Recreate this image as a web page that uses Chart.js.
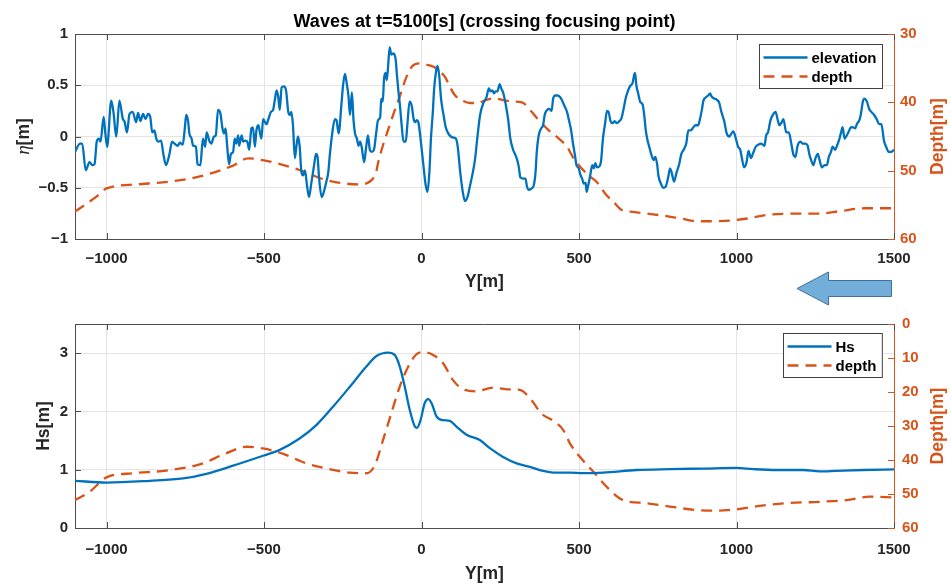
<!DOCTYPE html>
<html>
<head>
<meta charset="utf-8">
<script src="https://cdn.jsdelivr.net/npm/chart.js@4"></script>
<style>
  body { margin: 0; background: #fff; }
  .box { position: absolute; left: 0; width: 951px; height: 293px; }
  #arrow { position: absolute; left: 0; top: 0; }
</style>
</head>
<body>
<div class="box" style="top:0"><canvas id="waves"></canvas></div>
<div class="box" style="top:293px"><canvas id="hs"></canvas></div>
<svg id="arrow" width="951" height="586">
  <polygon points="797,288.5 828.5,272 828.5,280.5 891.5,280.5 891.5,296.5 828.5,296.5 828.5,305" fill="#73aedb" stroke="#41719c" stroke-width="1"/>
</svg>
<script>
// ---- data ----
const xTicks = [-1000, -500, 0, 500, 1000, 1500];
const etaTicks = [-1, -0.5, 0, 0.5, 1];
const depthTopTicks = [30, 40, 50, 60];
const hsTicks = [0, 1, 2, 3];
const depthBotTicks = [0, 10, 20, 30, 40, 50, 60];

// surface elevation at t=5100 s
const elevY = [-1100,-1084,-1077,-1066,-1054,-1045,-1038,-1031,-1024,-1019,-1009,-1004,-998,-985,-978,-969,-959,-948,-943,-935,-927,-917,-906,-900,-892,-884,-876,-868,-861,-855,-848,-842,-835,-827,-819,-811,-800,-792,-784,-774,-767,-758,-752,-747,-741,-737,-730,-725,-716,-711,-702,-694,-687,-682,-674,-667,-659,-653,-646,-638,-632,-627,-622,-617,-611,-605,-598,-593,-588,-582,-579,-571,-566,-559,-553,-547,-540,-535,-529,-524,-518,-513,-508,-503,-497,-492,-486,-478,-471,-466,-460,-455,-450,-444,-437,-430,-423,-418,-413,-408,-402,-397,-392,-387,-381,-376,-370,-363,-357,-350,-341,-335,-330,-325,-317,-310,-302,-296,-291,-283,-275,-270,-263,-254,-249,-243,-238,-232,-227,-221,-216,-211,-205,-200,-195,-190,-182,-176,-170,-164,-158,-151,-144,-138,-131,-128,-123,-119,-114,-110,-105,-101,-96,-89,-82,-78,-73,-68,-63,-57,-50,-45,-38,-31,-25,-20,-15,-10,-2,6,13,19,25,30,36,40,46,51,56,62,70,77,85,93,101,109,115,123,131,138,146,154,163,170,177,186,197,206,214,219,225,230,235,241,248,253,260,267,275,282,291,298,304,309,314,323,330,335,341,348,356,362,366,372,380,386,391,399,406,413,418,425,433,441,448,455,462,468,475,481,487,492,499,504,510,515,521,524,529,535,542,547,552,557,565,570,576,582,589,594,600,607,613,620,628,635,641,648,656,664,670,675,678,682,688,694,702,707,712,717,723,730,737,742,748,752,760,767,775,783,789,794,802,809,818,825,834,841,847,855,863,870,878,884,890,895,902,910,916,921,929,937,945,952,961,969,977,982,990,998,1005,1012,1017,1024,1032,1038,1046,1053,1061,1069,1078,1089,1094,1100,1108,1115,1124,1131,1136,1144,1149,1158,1166,1174,1181,1187,1194,1203,1210,1218,1226,1231,1237,1244,1250,1258,1263,1271,1280,1287,1293,1300,1305,1313,1319,1327,1332,1337,1343,1348,1355,1364,1371,1377,1382,1390,1395,1401,1406,1414,1421,1428,1437,1445,1453,1460,1468,1475,1483,1491,1500];
const elevEta = [-0.15,-0.07,-0.07,-0.33,-0.25,-0.28,-0.27,-0.05,-0.02,-0.05,0.19,0.04,-0.10,0.35,0.24,0.00,0.35,0.17,0.15,0.04,0.22,0.24,0.14,0.23,0.15,0.22,0.17,0.22,0.19,0.04,0.06,-0.02,-0.05,-0.04,-0.18,-0.28,-0.17,-0.05,-0.07,-0.09,-0.06,-0.08,0.06,0.21,0.15,0.03,-0.02,-0.09,-0.10,-0.27,-0.28,-0.02,-0.10,0.04,-0.04,-0.07,0.00,0.01,0.26,0.22,0.08,0.03,0.08,-0.09,-0.27,-0.17,-0.15,-0.02,-0.07,0.01,-0.09,0.01,-0.05,-0.04,-0.05,-0.13,0.08,0.09,-0.10,0.06,0.11,0.04,-0.02,0.17,0.14,0.12,0.17,0.24,0.26,0.35,0.45,0.39,0.26,0.48,0.49,0.45,0.24,0.21,0.24,0.11,-0.21,-0.09,0.00,-0.09,-0.35,-0.38,-0.33,-0.49,-0.59,-0.46,-0.28,-0.17,-0.20,-0.41,-0.59,-0.54,-0.44,-0.35,-0.18,0.04,0.17,0.16,0.03,0.32,0.50,0.61,0.53,0.40,0.21,0.43,0.17,0.03,-0.02,-0.09,-0.05,-0.10,-0.25,-0.11,0.01,-0.13,-0.15,-0.13,0.03,0.16,0.19,0.37,0.34,0.56,0.62,0.55,0.73,0.87,0.80,0.81,0.75,0.60,0.43,0.29,0.11,-0.05,-0.05,0.11,0.34,0.30,0.17,0.14,0.16,0.14,-0.05,-0.28,-0.47,-0.54,-0.35,-0.02,0.24,0.46,0.63,0.69,0.60,0.37,0.21,0.09,0.03,0.00,-0.01,-0.02,-0.10,-0.35,-0.54,-0.63,-0.59,-0.48,-0.35,-0.22,-0.02,0.21,0.33,0.38,0.47,0.44,0.45,0.42,0.44,0.44,0.51,0.47,0.42,0.32,0.17,-0.02,-0.13,-0.18,-0.23,-0.30,-0.40,-0.41,-0.41,-0.49,-0.52,-0.51,-0.48,-0.35,-0.15,0.01,0.08,0.11,0.21,0.26,0.27,0.25,0.37,0.40,0.40,0.38,0.34,0.29,0.24,0.16,0.06,-0.07,-0.18,-0.28,-0.31,-0.37,-0.41,-0.46,-0.45,-0.54,-0.48,-0.39,-0.28,-0.31,-0.26,-0.30,-0.29,-0.24,-0.02,0.11,0.25,0.24,0.15,0.13,0.15,0.13,0.15,0.18,0.26,0.37,0.45,0.50,0.52,0.60,0.62,0.50,0.42,0.34,0.31,0.21,0.06,-0.03,-0.10,-0.18,-0.23,-0.20,-0.27,-0.38,-0.46,-0.50,-0.49,-0.40,-0.31,-0.35,-0.44,-0.36,-0.27,-0.17,-0.12,-0.06,0.06,0.06,0.09,0.11,0.11,0.17,0.26,0.35,0.38,0.40,0.42,0.39,0.37,0.36,0.33,0.24,0.15,0.03,0.00,0.02,0.05,-0.02,-0.10,-0.13,-0.21,-0.30,-0.25,-0.14,-0.21,-0.16,-0.10,-0.08,-0.07,-0.09,0.01,0.04,0.16,0.21,0.24,0.16,0.11,0.14,0.17,0.04,0.04,-0.07,-0.18,-0.20,-0.09,-0.05,-0.07,-0.07,-0.09,-0.17,-0.23,-0.28,-0.22,-0.17,-0.22,-0.30,-0.28,-0.28,-0.20,-0.15,-0.10,-0.13,-0.09,-0.02,0.04,0.09,-0.02,0.00,0.04,0.09,0.09,0.08,0.12,0.16,0.22,0.34,0.37,0.34,0.27,0.24,0.21,0.17,0.12,0.12,-0.04,-0.10,-0.15,-0.15,-0.13];

// depth profile, upper panel (right axis 30-60 m)
const depthTopY = [-1100,-1032,-1000,-900,-800,-700,-600,-550,-500,-400,-350,-300,-200,-147,-137,-121,-105,-89,-68,-52,-36,-20,-2,17,38,54,75,91,107,128,154,180,202,230,262,293,319,346,372,404,436,462,483,505,531,557,584,610,637,664,717,770,823,876,929,982,1035,1094,1173,1258,1332,1406,1500];
const depthTopVal = [56.0,53.8,52.6,52.0,51.6,50.8,49.3,48.2,48.5,49.7,50.6,51.4,52.0,50.7,48.7,46.1,43.9,41.7,39.0,36.8,35.1,34.4,34.3,34.5,34.8,35.3,36.3,37.8,39.0,39.7,40.1,40.1,39.7,39.4,39.7,39.9,40.0,41.2,42.6,44.1,45.3,46.5,48.2,49.5,50.7,51.7,53.4,54.6,55.8,56.0,56.3,56.6,57.0,57.4,57.4,57.3,57.0,56.5,56.3,56.3,55.9,55.5,55.5];

// significant wave height, lower panel
const hsY = [-1100,-1000,-863,-757,-683,-598,-503,-450,-386,-333,-281,-228,-175,-143,-106,-85,-69,-53,-37,-21,-14,-3,10,21,32,48,69,90,111,143,185,217,259,302,344,386,418,471,513,577,683,788,894,1000,1053,1127,1212,1264,1317,1402,1500];
const hsVal = [0.81,0.78,0.81,0.85,0.93,1.07,1.24,1.34,1.54,1.77,2.08,2.42,2.77,2.95,3.01,2.97,2.77,2.42,2.02,1.74,1.72,1.85,2.14,2.21,2.14,1.91,1.85,1.84,1.74,1.60,1.51,1.37,1.22,1.11,1.05,0.98,0.95,0.95,0.94,0.95,0.995,1.01,1.02,1.03,1.01,0.995,0.995,0.97,0.98,0.995,1.005];

// depth profile, lower panel (right axis 0-60 m)
const depthBotY = [-1100,-1053,-1000,-916,-810,-704,-619,-556,-503,-439,-365,-281,-228,-175,-148,-122,-96,-69,-42,-16,5,37,69,100,132,175,227,270,312,349,380,417,450,471,502,545,587,640,714,788,873,937,1000,1074,1159,1264,1349,1423,1500];
const depthBotVal = [51.8,49.3,45.1,43.9,43.1,41.3,38.0,36.1,36.6,38.2,41.0,42.9,43.7,43.9,41.5,34.1,26.3,18.4,12.5,8.9,8.3,9.1,11.6,16.5,19.2,19.8,18.7,19.2,19.4,22.4,26.3,28.4,31.2,35.1,39.0,43.4,47.8,51.8,52.7,53.7,54.7,54.9,54.5,53.5,52.7,52.3,51.8,50.8,51.0];

// ---- style ----
const FONT = "'Liberation Sans', Arial, Helvetica, sans-serif";
const BLUE = "#0072BD";
const ORANGE = "#D95319";
const INK = "#262626";
const AXIS = "#4d4d4d";
const GRID = "#e4e4e4";

function pts(xs, ys) { return xs.map((x, i) => ({ x: x, y: ys[i] })); }
function fmt(v) { return String(v).replace("-", "\u2212"); }
function fixTicks(list) { return s => { s.ticks = list.map(v => ({ value: v })); }; }

// frame, inward ticks, title, y labels and legend
const decor = {
  id: "decor",
  afterDraw(chart, args, o) {
    const { ctx, chartArea: a, scales } = chart;
    ctx.save();
    ctx.lineWidth = 1;
    // top frame line
    ctx.strokeStyle = AXIS;
    ctx.beginPath();
    ctx.moveTo(a.left, a.top + 0.5);
    ctx.lineTo(a.right, a.top + 0.5);
    ctx.stroke();
    // inward tick marks
    const tl = 6;
    ctx.beginPath();
    scales.x.ticks.forEach(t => {
      const px = Math.round(scales.x.getPixelForValue(t.value)) + 0.5;
      ctx.moveTo(px, a.bottom); ctx.lineTo(px, a.bottom - tl);
      ctx.moveTo(px, a.top); ctx.lineTo(px, a.top + tl);
    });
    scales.y.ticks.forEach(t => {
      const py = Math.round(scales.y.getPixelForValue(t.value)) + 0.5;
      ctx.moveTo(a.left, py); ctx.lineTo(a.left + tl, py);
    });
    ctx.stroke();
    ctx.strokeStyle = ORANGE;
    ctx.beginPath();
    scales.y2.ticks.forEach(t => {
      const py = Math.round(scales.y2.getPixelForValue(t.value)) + 0.5;
      ctx.moveTo(a.right, py); ctx.lineTo(a.right - tl, py);
    });
    ctx.stroke();

    // main title
    if (o.title) {
      ctx.fillStyle = "#000";
      ctx.font = "bold 18px " + FONT;
      ctx.textAlign = "center";
      ctx.textBaseline = "middle";
      ctx.fillText(o.title, (a.left + a.right) / 2, 22);
    }

    // left y label (mixed fonts), rotated
    const cy = (a.top + a.bottom) / 2;
    ctx.save();
    ctx.translate(o.leftX, cy);
    ctx.rotate(-Math.PI / 2);
    ctx.fillStyle = INK;
    ctx.textBaseline = "middle";
    ctx.textAlign = "left";
    let w = 0;
    o.leftParts.forEach(p => { ctx.font = p.font; w += ctx.measureText(p.text).width; });
    let x = -w / 2;
    o.leftParts.forEach(p => { ctx.font = p.font; ctx.fillText(p.text, x, 0); x += ctx.measureText(p.text).width; });
    ctx.restore();

    // right y label, rotated the same way
    ctx.save();
    ctx.translate(938, cy);
    ctx.rotate(-Math.PI / 2);
    ctx.fillStyle = ORANGE;
    ctx.font = "bold 17.5px " + FONT;
    ctx.textAlign = "center";
    ctx.textBaseline = "middle";
    ctx.fillText("Depth[m]", 0, 0);
    ctx.restore();

    // legend box
    ctx.font = "bold 15px " + FONT;
    const sets = chart.data.datasets;
    const textW = Math.max(...sets.map(d => ctx.measureText(d.label).width));
    const bw = 4 + 44 + 4 + textW + 6;
    const bh = 44;
    const bx = Math.round(a.right - 12 - bw) + 0.5;
    const by = Math.round(a.top + o.legendTop) + 0.5;
    ctx.fillStyle = "#fff";
    ctx.fillRect(bx, by, bw, bh);
    ctx.strokeStyle = "#404040";
    ctx.strokeRect(bx, by, bw, bh);
    sets.forEach((d, i) => {
      const ry = by + 13 + i * 19;
      ctx.strokeStyle = d.borderColor;
      ctx.lineWidth = d.borderWidth;
      ctx.setLineDash(d.borderDash || []);
      ctx.beginPath();
      ctx.moveTo(bx + 4, ry);
      ctx.lineTo(bx + 48, ry);
      ctx.stroke();
      ctx.setLineDash([]);
      ctx.fillStyle = "#000";
      ctx.textAlign = "left";
      ctx.textBaseline = "middle";
      ctx.fillText(d.label, bx + 52, ry + 1);
    });
    ctx.restore();
  }
};

function makeChart(id, cfg) {
  const tickFont = { family: FONT, size: 15, weight: "bold" };
  return new Chart(document.getElementById(id), {
    type: "line",
    data: { datasets: cfg.datasets },
    plugins: [decor],
    options: {
      responsive: true,
      maintainAspectRatio: false,
      animation: false,
      devicePixelRatio: 1,
      layout: { padding: { top: cfg.padTop, left: 0, right: 0, bottom: 0 } },
      elements: { point: { radius: 0 }, line: { cubicInterpolationMode: "monotone" } },
      plugins: {
        legend: { display: false },
        tooltip: { enabled: false },
        decor: cfg.decor
      },
      scales: {
        x: {
          type: "linear", min: -1100, max: 1500,
          afterBuildTicks: fixTicks(xTicks),
          afterFit: s => { s.height = cfg.xHeight; },
          grid: { color: c => c.tick && c.tick.value === 1500 ? "rgba(0,0,0,0)" : GRID, drawTicks: false },
          border: { color: AXIS, width: 1 },
          ticks: { font: tickFont, color: INK, padding: cfg.xPad, maxRotation: 0, callback: v => fmt(v) },
          title: { display: true, text: "Y[m]", color: INK, font: { family: FONT, size: 17.5, weight: "bold" }, padding: { top: 0, bottom: cfg.xTitlePad } }
        },
        y: {
          position: "left", min: cfg.yMin, max: cfg.yMax,
          afterBuildTicks: fixTicks(cfg.yTicks),
          afterFit: s => { s.width = 75; },
          grid: { color: GRID, drawTicks: false },
          border: { color: AXIS, width: 1 },
          ticks: { font: tickFont, color: INK, padding: 7, callback: v => fmt(v) }
        },
        y2: {
          position: "right", min: cfg.y2Min, max: cfg.y2Max, reverse: true,
          afterBuildTicks: fixTicks(cfg.y2Ticks),
          afterFit: s => { s.width = 57; },
          grid: { display: false, drawTicks: false },
          border: { color: ORANGE, width: 1 },
          ticks: { font: tickFont, color: ORANGE, padding: cfg.y2Pad }
        }
      }
    }
  });
}

makeChart("waves", {
  padTop: 34, xHeight: 54, xPad: 11, xTitlePad: 0, y2Pad: 6,
  yMin: -1, yMax: 1, yTicks: etaTicks,
  y2Min: 30, y2Max: 60, y2Ticks: depthTopTicks,
  decor: {
    title: "Waves at t=5100[s] (crossing focusing point)",
    leftX: 24,
    leftParts: [
      { text: "\u03b7", font: "italic 19px 'Liberation Serif', 'DejaVu Serif', serif" },
      { text: "[m]", font: "bold 17.5px " + FONT }
    ],
    legendTop: 10
  },
  datasets: [
    { label: "elevation", data: pts(elevY, elevEta), yAxisID: "y", borderColor: BLUE, borderWidth: 2.3 },
    { label: "depth", data: pts(depthTopY, depthTopVal), yAxisID: "y2", borderColor: ORANGE, borderWidth: 2.3, borderDash: [11, 7] }
  ]
});

makeChart("hs", {
  padTop: 31, xHeight: 58, xPad: 13, xTitlePad: 1, y2Pad: 8,
  yMin: 0, yMax: 3.5, yTicks: hsTicks,
  y2Min: 0, y2Max: 60, y2Ticks: depthBotTicks,
  decor: {
    title: null,
    leftX: 44,
    leftParts: [{ text: "Hs[m]", font: "bold 17.5px " + FONT }],
    legendTop: 9
  },
  datasets: [
    { label: "Hs", data: pts(hsY, hsVal), yAxisID: "y", borderColor: BLUE, borderWidth: 2.3 },
    { label: "depth", data: pts(depthBotY, depthBotVal), yAxisID: "y2", borderColor: ORANGE, borderWidth: 2.3, borderDash: [11, 7] }
  ]
});
</script>
</body>
</html>
